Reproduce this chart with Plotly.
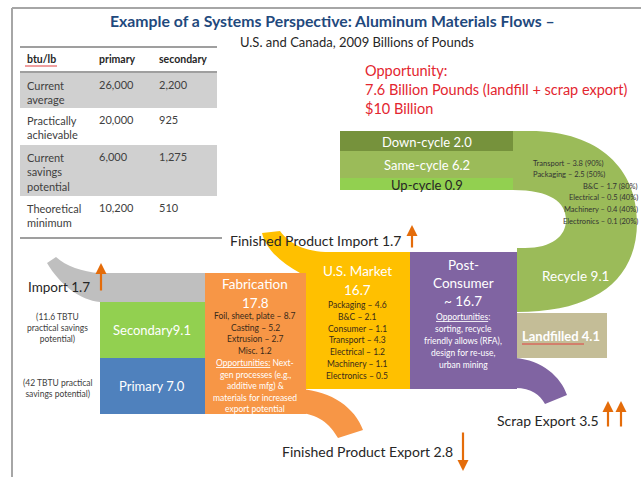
import plotly.graph_objects as go

# ─── Data (billions of pounds, U.S. + Canada 2009) ───────────
table_header = ["btu/lb", "primary", "secondary"]
table_rows = ["Current<br>average", "Practically<br>achievable",
              "Current<br>savings<br>potential", "Theoretical<br>minimum"]
table_primary = [26000, 20000, 6000, 10200]
table_secondary = [2200, 925, 1275, 510]

supply_labels = ["Import", "Secondary", "Primary"]
supply_values = [1.7, 9.1, 7.0]
savings_tbtu = [11.6, 42]

fab_total = 17.8
fab_items = ["Foil, sheet, plate", "Casting", "Extrusion", "Misc."]
fab_values = [8.7, 5.2, 2.7, 1.2]

market_total = 16.7
market_items = ["Packaging", "B&C", "Consumer", "Transport",
                "Electrical", "Machinery", "Electronics"]
market_values = [4.6, 2.1, 1.1, 4.3, 1.2, 1.1, 0.5]

post_consumer = 16.7
end_labels = ["Recycle", "Landfilled", "Scrap Export"]
end_values = [9.1, 4.1, 3.5]

cycle_labels = ["Down-cycle", "Same-cycle", "Up-cycle"]
cycle_values = [2.0, 6.2, 0.9]

recycle_items = ["Transport", "Packaging", "B&C", "Electrical", "Machinery", "Electronics"]
recycle_values = [3.8, 2.5, 1.7, 0.5, 0.4, 0.1]
recycle_rates = [90, 50, 80, 40, 40, 20]

finished_import = 1.7
finished_export = 2.8
opportunity_lbs = 7.6
opportunity_usd = 10

# ─── Style ───────────────────────────────────────────────────
FONT = "Lato, 'Open Sans', sans-serif"
DARK = "#262626"
ORANGE_ARROW = "#E46C0A"
C = {
    "gray": "#BFBFBF", "green": "#92D050", "blue": "#4F81BD",
    "orange": "#F79646", "yellow": "#FFC000", "purple": "#8064A2",
    "tan": "#C4BD97", "olive": "#9BBB59", "darkolive": "#76923C",
}

shapes = []
annots = []


def rect(x0, y0, x1, y1, color):
    shapes.append(dict(type="rect", x0=x0, y0=y0, x1=x1, y1=y1,
                       fillcolor=color, line=dict(width=0), layer="below"))


def path(d, color):
    shapes.append(dict(type="path", path=d, fillcolor=color,
                       line=dict(width=0), layer="below"))


def line(x0, y0, x1, y1, color="#7F7F7F", width=1.5):
    shapes.append(dict(type="line", x0=x0, y0=y0, x1=x1, y1=y1,
                       line=dict(color=color, width=width)))


def txt(x, y, s, size=11, color=DARK, anchor="center", bold=False, align=None):
    if bold:
        s = "<b>" + s + "</b>"
    annots.append(dict(x=x, y=y, text=s, showarrow=False, xanchor=anchor,
                       yanchor="middle", align=align or anchor,
                       font=dict(family=FONT, size=size, color=color)))


def arrow(x, y_tail, y_head):
    annots.append(dict(x=x, y=y_head, ax=x, ay=y_tail, xref="x", yref="y",
                       axref="x", ayref="y", text="", showarrow=True,
                       arrowhead=2, arrowsize=1, arrowwidth=2.2,
                       arrowcolor=ORANGE_ARROW))


# ─── Frame ───────────────────────────────────────────────────
line(12, 8, 12, 477, "#A6A6A6", 2)
line(12, 8, 641, 8, "#A6A6A6", 2)

# ─── Title ───────────────────────────────────────────────────
txt(332, 20, "Example of a Systems Perspective: Aluminum Materials Flows –",
    size=15.8, color="#1F497D", bold=True)
txt(357, 42, "U.S. and Canada, 2009 Billions of Pounds", size=13, color=DARK)

# ─── Energy table ────────────────────────────────────────────
line(20, 47, 217, 47, "#7F7F7F", 1.5)
line(20, 72, 217, 72, "#7F7F7F", 1.5)
line(20, 238, 222, 238, "#7F7F7F", 1.5)
row_bounds = [(73, 108), (108, 145), (145, 196), (196, 232)]
for i, (y0, y1) in enumerate(row_bounds):
    if i % 2 == 0:
        rect(20, y0, 217, y1, "#D0D0D0")
col_x = [25, 97, 157]
for cx, h in zip(col_x, table_header):
    txt(cx, 59, h, size=10.5, anchor="left", bold=True)
line(25, 66, 57, 66, "#E04040", 1)
for (y0, y1), name, p, s in zip(row_bounds, table_rows, table_primary, table_secondary):
    ny = name.count("<br>") + 1
    yc = y0 + 4 + ny * 7.5
    txt(col_x[0], yc, name, size=11, anchor="left", color="#404040")
    txt(col_x[1], y0 + 11, f"{p:,}", size=11, anchor="left", color="#404040")
    txt(col_x[2], y0 + 11, f"{s:,}", size=11, anchor="left", color="#404040")

# ─── Opportunity note ────────────────────────────────────────
red = "#E3262F"
txt(363, 70, "Opportunity:", size=14.5, color=red, anchor="left")
txt(363, 89, f"{opportunity_lbs} Billion Pounds (landfill + scrap export)",
    size=14.5, color=red, anchor="left")
txt(363, 108, f"${opportunity_usd} Billion", size=14.5, color=red, anchor="left")

# ─── Flow bands (drawn first, boxes sit on top) ──────────────
# recycle loop
path("M 513,131 L 530,131 C 600,131 637,170 637,222 "
     "C 637,280 595,312 517,312 L 517,248 L 525,248 "
     "C 552,248 566,236 566,220 C 566,202 550,190 513,190 Z", C["olive"])
# finished product import swoosh
path("M 262,233 L 280,231 C 290,244 305,252 330,252 L 330,273 "
     "L 300,273 C 282,263 266,250 262,233 Z", C["yellow"])
# finished product export swoosh
path("M 300,389 C 332,391 355,408 363,430 L 338,438 "
     "C 330,424 318,413 296,413 Z", C["orange"])
# scrap export swoosh
path("M 515,358 C 542,360 561,377 567,395 L 545,404 "
     "C 540,395 532,388 515,388 Z", C["purple"])
# import swoosh
path("M 100,273 C 82,272 66,266 56,257 L 47,263 "
     "C 60,285 80,300 100,302 Z", C["gray"])

# ─── Boxes ───────────────────────────────────────────────────
rect(100, 273, 205, 302, C["gray"])
rect(100, 302, 205, 358, C["green"])
rect(100, 358, 205, 414, C["blue"])
rect(205, 273, 306, 414, C["orange"])
rect(306, 252, 410, 389, C["yellow"])
rect(410, 252, 517, 389, C["purple"])
rect(517, 313, 607, 358, C["tan"])
cycle_colors = [C["darkolive"], C["olive"], C["green"]]
cycle_bounds = [(131, 151), (151, 178), (178, 190)]
for (y0, y1), col in zip(cycle_bounds, cycle_colors):
    rect(340, y0, 513, y1, col)

# ─── Supply side text ────────────────────────────────────────
txt(59, 287, f"{supply_labels[0]} {supply_values[0]}", size=13.5)
txt(152, 330, f"{supply_labels[1]}{supply_values[1]}", size=13, color="white")
txt(152, 386, f"{supply_labels[2]} {supply_values[2]}", size=13, color="white")
txt(57, 328, f"({savings_tbtu[0]} TBTU<br>practical savings<br>potential)", size=8.5,
    color="#404040")
txt(57, 388, f"({savings_tbtu[1]} TBTU practical<br>savings potential)", size=8.5,
    color="#404040")
arrow(101, 292, 263)

# ─── Fabrication ─────────────────────────────────────────────
txt(255, 284, "Fabrication", size=13.5, color="white")
txt(255, 303, f"{fab_total}", size=13.5, color="white")
for i, (n, v) in enumerate(zip(fab_items, fab_values)):
    sep = " " if n.endswith(".") else " – "
    txt(255, 316 + i * 11.7, f"{n}{sep}{v}", size=8.5, color="#3A2A1A")
fab_opp = ["<u>Opportunities:</u> Next-", "gen processes (e.g.,", "additive mfg) &",
           "materials for increased", "export potential"]
for i, s in enumerate(fab_opp):
    txt(255, 363 + i * 11.5, s, size=8.5, color="white")

# ─── U.S. Market ─────────────────────────────────────────────
txt(357, 271, "U.S. Market", size=13.5, color="white")
txt(357, 290, f"{market_total}", size=13.5, color="white")
for i, (n, v) in enumerate(zip(market_items, market_values)):
    txt(357, 305 + i * 11.8, f"{n} – {v}", size=8.5, color="#3A2A1A")

# ─── Post-consumer ───────────────────────────────────────────
txt(463, 265, "Post-", size=13.5, color="white")
txt(463, 283, "Consumer", size=13.5, color="white")
txt(463, 301, f"~ {post_consumer}", size=13.5, color="white")
post_opp = ["<u>Opportunities</u>:", "sorting, recycle", "friendly allows (RFA),",
            "design for re-use,", "urban mining"]
for i, s in enumerate(post_opp):
    txt(463, 317 + i * 12, s, size=8.5, color="white")

# ─── End of life ─────────────────────────────────────────────
txt(575, 276, f"{end_labels[0]} {end_values[0]}", size=13.5, color="white")
txt(561, 336, f"{end_labels[1]} {end_values[1]}", size=13, color="white", bold=True)
line(522, 344, 584, 344, "#E04040", 1)
txt(548, 420, f"{end_labels[2]} {end_values[2]}", size=14)
arrow(608, 428, 401)
arrow(621, 428, 401)

# ─── Recycle breakdown ───────────────────────────────────────
for (y0, y1), lab, v, col in zip(cycle_bounds, cycle_labels, cycle_values,
                                  ["white", "white", DARK]):
    txt(427, (y0 + y1) / 2 + 0.5, f"{lab} {v}", size=13, color=col)
for i, (n, v, r) in enumerate(zip(recycle_items, recycle_values, recycle_rates)):
    s = f"{n} – {v} ({r}%)"
    if i < 2:
        txt(531, 163 + i * 11.6, s, size=7.5, anchor="left", color="#333333")
    else:
        txt(640, 163 + i * 11.6, s, size=7.5, anchor="right", color="#333333")

# ─── Finished product trade ──────────────────────────────────
txt(315, 240, f"Finished Product Import {finished_import}", size=14)
arrow(412, 249, 225)
txt(367, 451, f"Finished Product Export {finished_export}", size=14)
arrow(463, 431, 471)

fig = go.Figure()
fig.update_layout(
    width=641, height=477,
    margin=dict(l=0, r=0, t=0, b=0),
    paper_bgcolor="white", plot_bgcolor="white",
    xaxis=dict(range=[0, 641], visible=False, fixedrange=True),
    yaxis=dict(range=[477, 0], visible=False, fixedrange=True),
    shapes=shapes, annotations=annots, showlegend=False,
)
# drop the browser's default body margin so the 641x477 figure fills the window
fig.write_html("out.html", config={"displayModeBar": False},
               post_script="document.body.style.margin='0';")
